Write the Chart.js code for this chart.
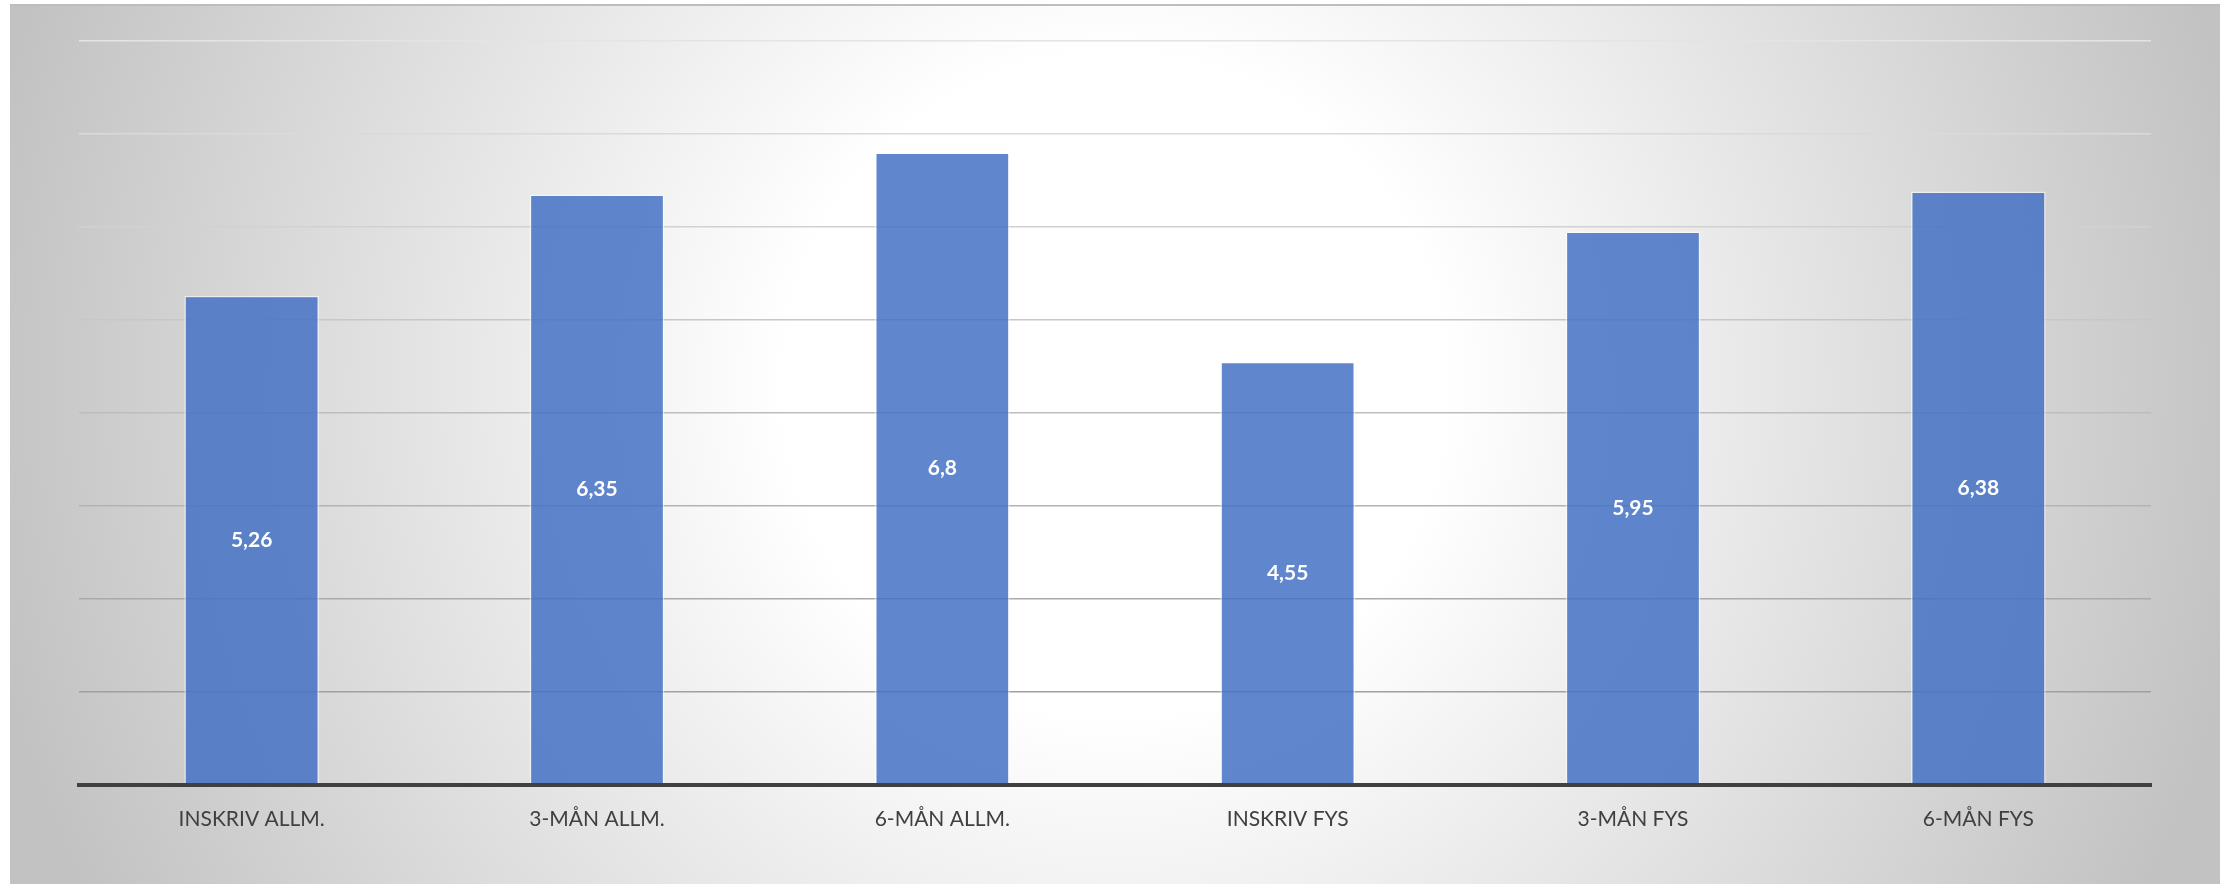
<!DOCTYPE html>
<html>
<head>
<meta charset="utf-8">
<script src="https://cdn.jsdelivr.net/npm/chart.js@4.4.1/dist/chart.umd.min.js"></script>
<style>
  html, body { margin: 0; padding: 0; background: #fff; }
  #frame {
    position: absolute; left: 10px; top: 4px; width: 2210px; height: 880px;
    border-top: 2px solid #bdbdbd; box-sizing: border-box;
    background: radial-gradient(circle 1150px at 1105px 380px, #ffffff 0px, #ffffff 330px, #c2c2c2 1150px);
  }
  #wrap { position: absolute; left: 0; top: 0; width: 2231px; height: 884px; }
</style>
</head>
<body>
<div id="frame"></div>
<div id="wrap"><canvas id="chart"></canvas></div>
<script>
const categories = ["INSKRIV ALLM.", "3-MÅN ALLM.", "6-MÅN ALLM.", "INSKRIV FYS", "3-MÅN FYS", "6-MÅN FYS"];
const values = [5.26, 6.35, 6.8, 4.55, 5.95, 6.38];
const yMax = 8;

// white value labels in the middle of each bar
const barLabels = {
  id: "barLabels",
  afterDatasetsDraw(chart) {
    const ctx = chart.ctx;
    const meta = chart.getDatasetMeta(0);
    ctx.save();
    ctx.fillStyle = "#ffffff";
    ctx.font = "bold 21px Lato";
    ctx.textAlign = "center";
    ctx.textBaseline = "middle";
    meta.data.forEach((bar, i) => {
      const text = String(values[i]).replace(".", ",");
      ctx.fillText(text, bar.x, (bar.y + bar.base) / 2);
    });
    ctx.restore();
  }
};

new Chart(document.getElementById("chart"), {
  type: "bar",
  data: {
    labels: categories,
    datasets: [{
      data: values,
      backgroundColor: "rgba(68, 114, 196, 0.85)",
      borderColor: "rgba(255, 255, 255, 0.55)",
      borderWidth: 1.5,
      barPercentage: 0.39,
      categoryPercentage: 1.0
    }]
  },
  options: {
    responsive: true,
    maintainAspectRatio: false,
    animation: false,
    layout: { padding: { left: 79, right: 80, top: 41, bottom: 30 } },
    plugins: { legend: { display: false }, tooltip: { enabled: false } },
    scales: {
      x: {
        grid: { display: false, drawTicks: false },
        border: { display: true, color: "#404040", width: 4, z: 1 },
        ticks: {
          color: "#404040",
          font: { family: "Lato", size: 21 },
          padding: 22,
          maxRotation: 0,
          autoSkip: false
        }
      },
      y: {
        min: 0,
        max: yMax,
        ticks: { display: false, stepSize: 1 },
        border: { display: false },
        grid: {
          drawTicks: false,
          lineWidth: 1.5,
          color: (c) => {
            const g = Math.round(160 + (c.tick.value - 1) / 7 * 68);
            return "rgb(" + g + "," + g + "," + g + ")";
          }
        }
      }
    }
  },
  plugins: [barLabels]
});
</script>
</body>
</html>
